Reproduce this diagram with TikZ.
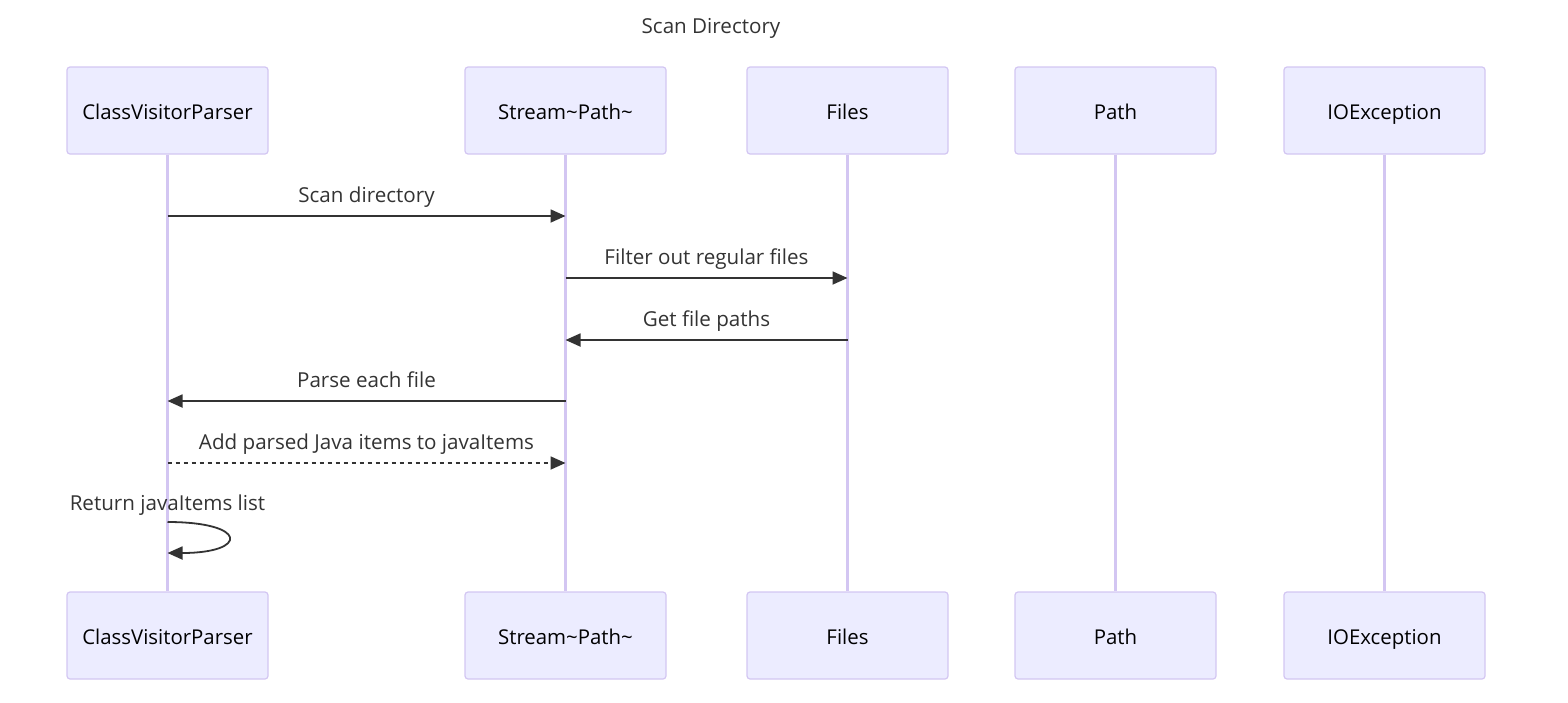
\documentclass[tikz,border=0pt]{standalone}
\usepackage{fontspec}
\setmainfont{Open Sans}
\usetikzlibrary{arrows.meta}
\usetikzlibrary{positioning}
\usetikzlibrary{calc}

\begin{document}
\begin{tikzpicture}[x=0.5pt,y=-0.5pt]
  \definecolor{actorfill}{HTML}{ECECFF}
  \definecolor{actorline}{HTML}{D3C6F2}
  \definecolor{msgline}{HTML}{333333}
  \tikzset{
    actor/.style={draw=actorline,fill=actorfill,rounded corners=1.5pt,line width=0.6pt,
      minimum width=100.5pt,minimum height=43.5pt,text height=10pt,text depth=1.5pt,
      font=\fontsize{10.2}{12}\selectfont,text=black},
    lifeline/.style={draw=actorline,line width=1.1pt},
    msg/.style={draw=msgline,line width=0.9pt,-{Triangle[length=7.5pt,width=6.5pt]}},
    msgtext/.style={midway,anchor=base,yshift=7pt,text=msgline,font=\fontsize{10.3}{12}\selectfont},
  }
  \useasboundingbox (0,0) rectangle (1568,702);
  \node[anchor=base,text=msgline,font=\fontsize{10.3}{12}\selectfont] (title) at (711,33) {Scan Directory};
  % participants and lifelines
  \foreach \name/\x/\label in {cvp/167.5/ClassVisitorParser, stream/565.5/Stream\textasciitilde Path\textasciitilde,
      files/847.5/Files, path/1115.5/Path, ioex/1384.5/IOException} {
    \node[actor] (\name Top) at (\x,110.5) {\label};
    \node[actor] (\name Bot) at (\x,635.5) {\label};
    \draw[lifeline] (\name Top) -- (\name Bot);
  }
  % message rows
  \coordinate (row1) at (0,216);
  \coordinate (row2) at (0,278);
  \coordinate (row3) at (0,340);
  \coordinate (row4) at (0,401);
  \coordinate (row5) at (0,463);
  \coordinate (row6a) at (0,522);
  \coordinate (row6b) at (0,553);
  \draw[msg] (cvpTop |- row1) -- node[msgtext] {Scan directory} (streamTop |- row1);
  \draw[msg] (streamTop |- row2) -- node[msgtext] {Filter out regular files} (filesTop |- row2);
  \draw[msg] (filesTop |- row3) -- node[msgtext] {Get file paths} (streamTop |- row3);
  \draw[msg] (streamTop |- row4) -- node[msgtext] {Parse each file} (cvpTop |- row4);
  \draw[msg,dash pattern=on 2pt off 2pt] (cvpTop |- row5) -- node[msgtext] {Add parsed Java items to javaItems} (streamTop |- row5);
  \draw[msg] (cvpTop |- row6a) .. controls +(81,0) and +(81,0) .. (cvpTop |- row6b);
  \node[anchor=base,text=msgline,font=\fontsize{10.3}{12}\selectfont] (retText) at ($(cvpTop |- row6a)+(0,-12)$) {Return javaItems list};
\end{tikzpicture}
\end{document}
